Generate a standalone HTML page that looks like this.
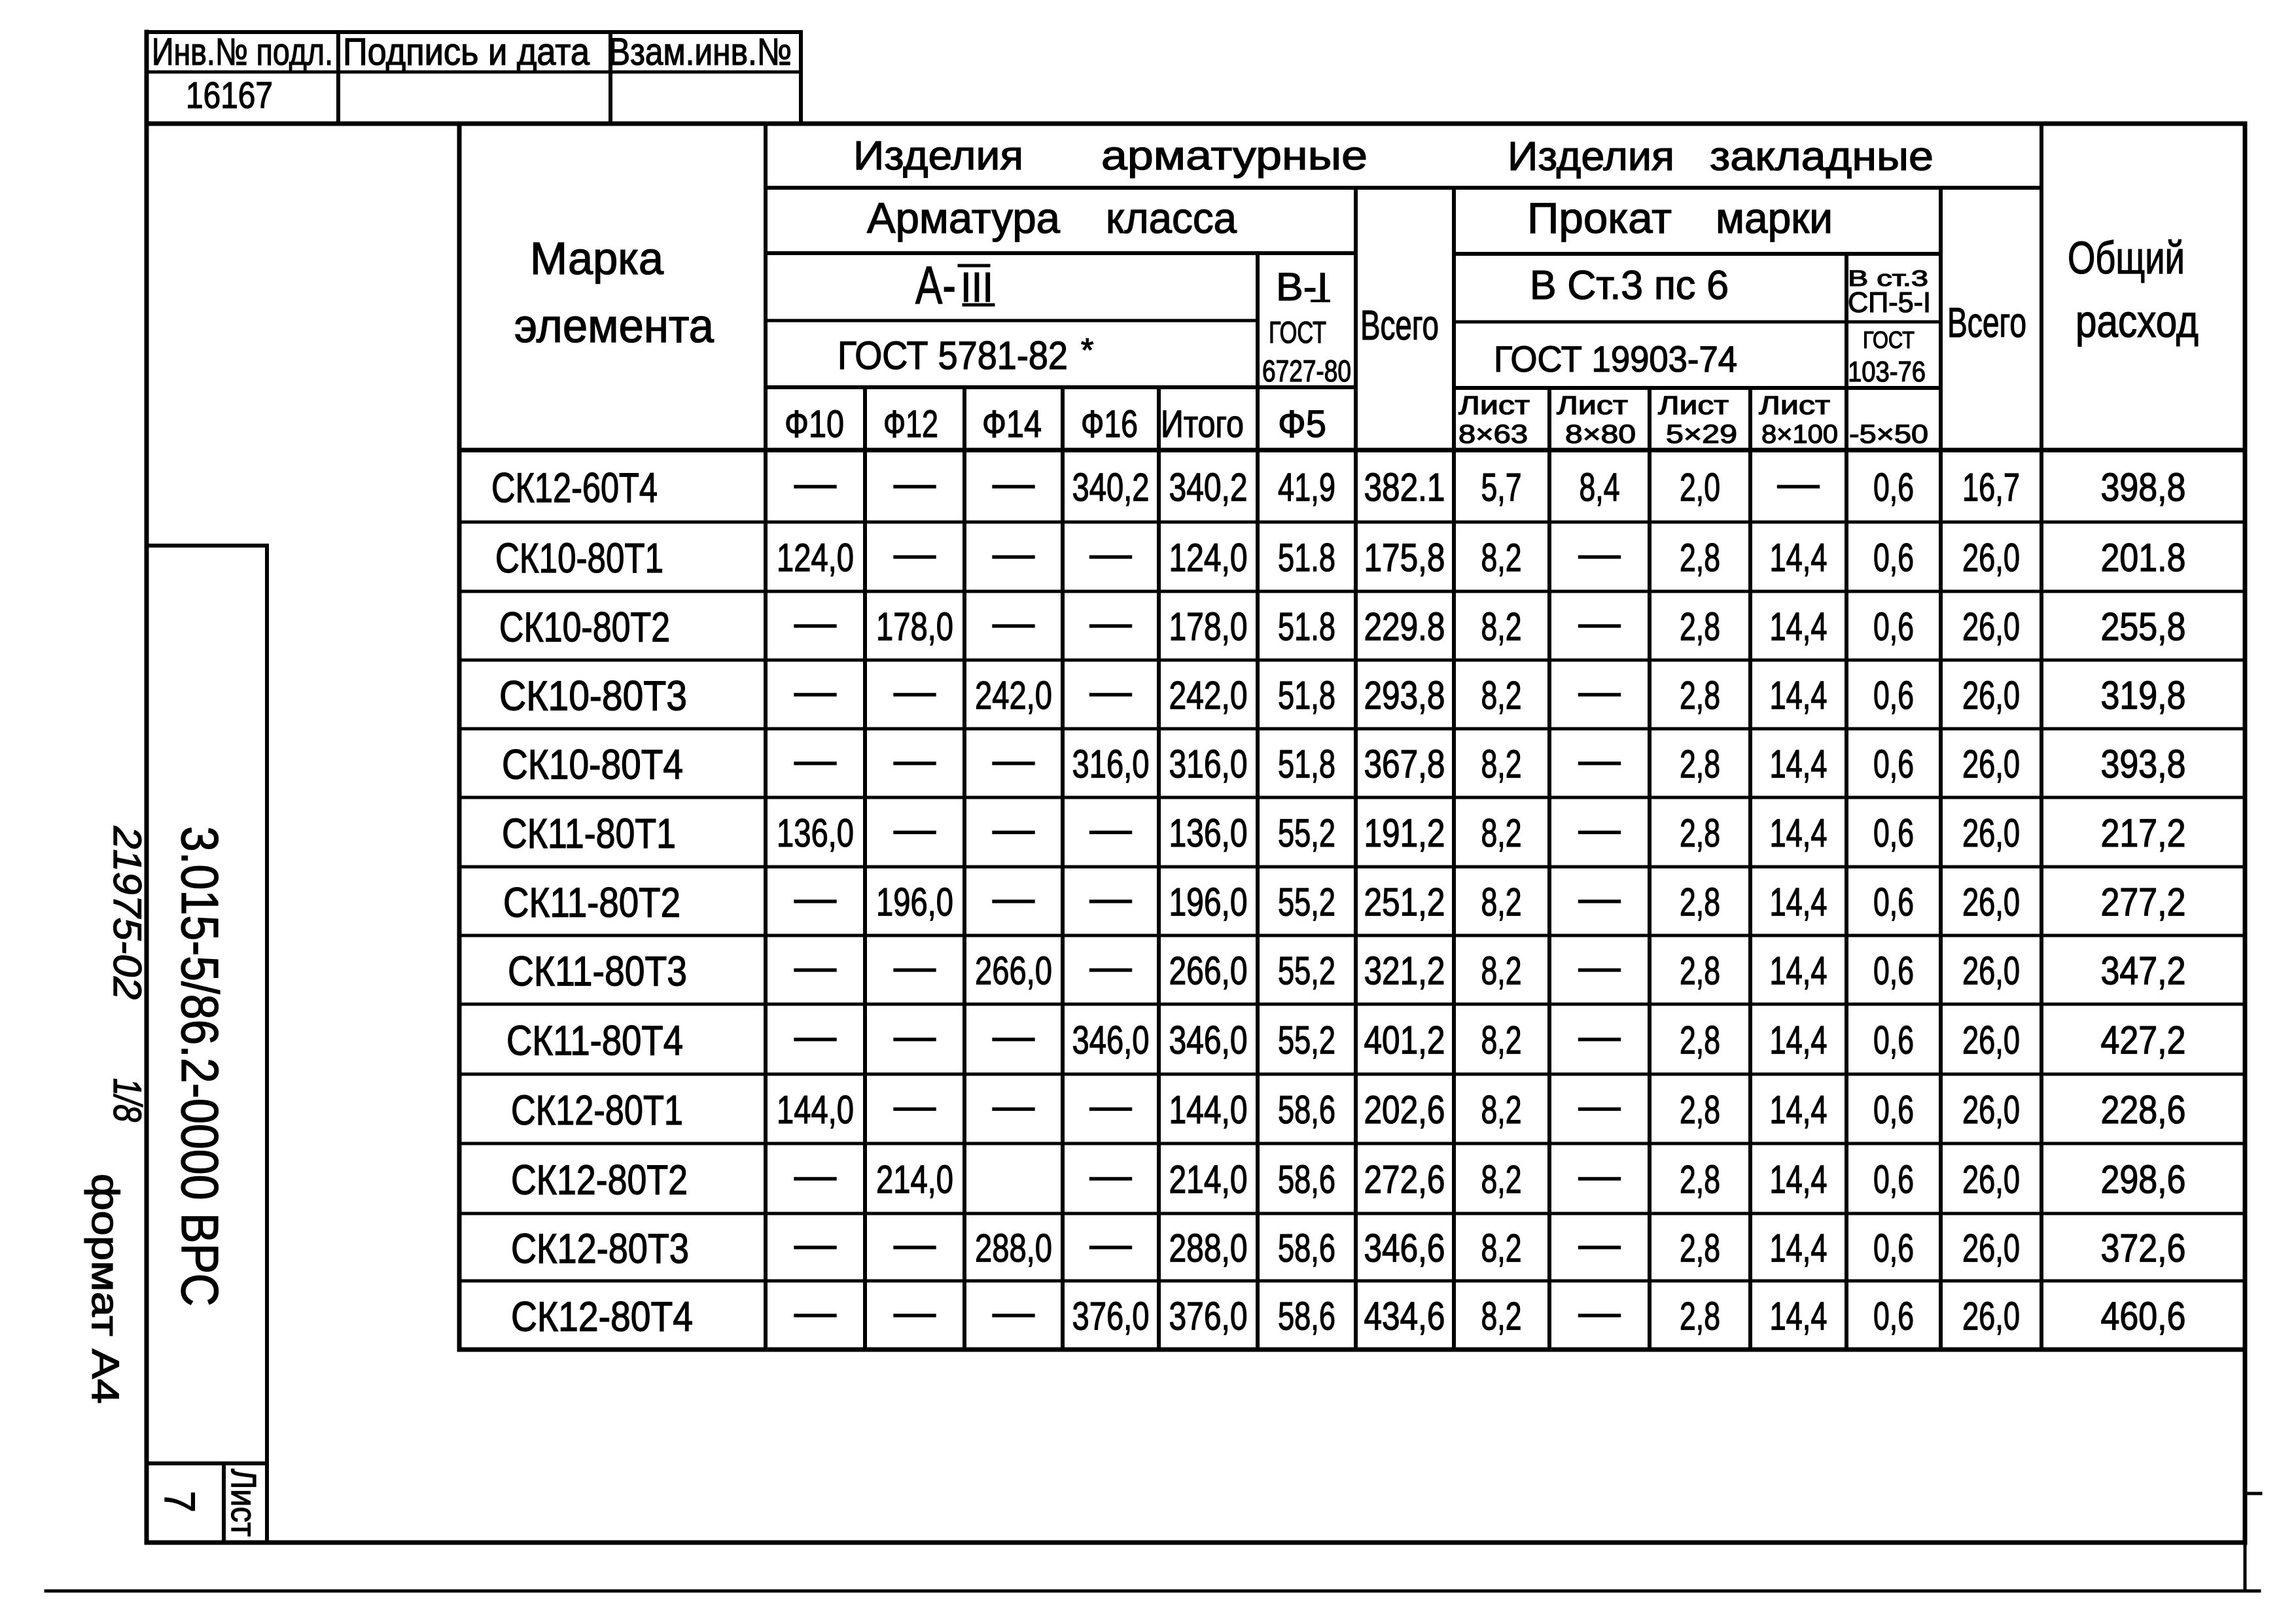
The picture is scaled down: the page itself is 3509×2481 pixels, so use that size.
<!DOCTYPE html>
<html>
<head>
<meta charset="utf-8">
<style>
html,body{margin:0;padding:0;background:#fff;}
svg{display:block;}
text{font-family:"Liberation Sans","DejaVu Sans",sans-serif;fill:#000;stroke:#000;stroke-width:1.3px;}
.ln{fill:none;stroke:#000;stroke-linecap:square;}
.v{font-size:60px;}
.n{font-size:64px;}
.h{font-size:62px;}
.sm{font-size:40px;}
</style>
</head>
<body>
<svg width="3509" height="2481" viewBox="0 0 3509 2481" xmlns="http://www.w3.org/2000/svg">
<rect width="3509" height="2481" fill="#fff"/>

<!-- Frame -->
<path class="ln" stroke-width="7" d="M224 49 V2358 M224 189 H3431 M3431 189 V2358 M224 2358 H3431"/>
<path class="ln" stroke-width="5" d="M3431 2358 V2432 M70 2432 H3453 M3431 2283 H3455"/>

<!-- Top-left stamp -->
<path class="ln" stroke-width="6" d="M224 49 H1224 M517 49 V189 M933 49 V189 M1224 49 V189"/>
<path class="ln" stroke-width="5" d="M224 110 H1224"/>
<text x="232" y="99" font-size="58" textLength="277" lengthAdjust="spacingAndGlyphs">Инв.№ подл.</text>
<text x="524" y="99" font-size="58" textLength="377" lengthAdjust="spacingAndGlyphs">Подпись и дата</text>
<text x="930" y="99" font-size="58" textLength="280" lengthAdjust="spacingAndGlyphs">Взам.инв.№</text>
<text x="284" y="165" font-size="57" textLength="133" lengthAdjust="spacingAndGlyphs">16167</text>

<!-- Left stamp -->
<path class="ln" stroke-width="6" d="M224 834 H408 M408 834 V2358 M224 2237 H408 M342 2237 V2358"/>
<text transform="translate(278,1263) rotate(90)" x="0" y="0" font-size="80" textLength="734" lengthAdjust="spacingAndGlyphs">3.015-5/86.2-0000 ВРС</text>
<text transform="translate(174,1263) rotate(90)" x="0" y="0" font-size="60" font-style="italic" textLength="265" lengthAdjust="spacingAndGlyphs">21975-02</text>
<text transform="translate(174,1648) rotate(90)" x="0" y="0" font-size="60" font-style="italic" textLength="67" lengthAdjust="spacingAndGlyphs">1/8</text>
<text transform="translate(141,1794) rotate(90)" x="0" y="0" font-size="58" textLength="352" lengthAdjust="spacingAndGlyphs">формат А4</text>
<text transform="translate(252,2279) rotate(90)" x="0" y="0" font-size="66" textLength="33" lengthAdjust="spacingAndGlyphs">7</text>
<text transform="translate(354,2245) rotate(90)" x="0" y="0" font-size="54" textLength="104" lengthAdjust="spacingAndGlyphs">Лист</text>

<!-- Main table lines -->
<path class="ln" stroke-width="7" d="M702 189 V2063 M702 2063 H3431 M702 688 H3431"/>
<path class="ln" stroke-width="6" d="M1170 189 V2063 M1170 287 H3120 M1170 387 H2072 M2222 388 H2966 M1170 592 H2072 M2222 593 H2966
M2072 287 V2063 M2222 287 V2063 M2966 287 V2063 M3120 189 V2063 M1922 387 V2063 M2822 388 V2063
M1322 592 V2063 M1474 592 V2063 M1624 592 V2063 M1771 592 V2063 M2368 593 V2063 M2521 593 V2063 M2675 593 V2063"/>
<path class="ln" stroke-width="5" d="M1170 490 H1922 M2222 492 H2966
M702 798 H3431 M702 904 H3431 M702 1009 H3431 M702 1114 H3431 M702 1219 H3431 M702 1325 H3431
M702 1430 H3431 M702 1535 H3431 M702 1642 H3431 M702 1748 H3431 M702 1855 H3431 M702 1958 H3431"/>

<!-- Header text -->
<text x="810" y="419" font-size="70" textLength="204" lengthAdjust="spacingAndGlyphs">Марка</text>
<text x="786" y="523" font-size="72" textLength="305" lengthAdjust="spacingAndGlyphs">элемента</text>

<text x="1304" y="259" class="h" textLength="260" lengthAdjust="spacingAndGlyphs">Изделия</text>
<text x="1683" y="259" class="h" textLength="407" lengthAdjust="spacingAndGlyphs">арматурные</text>
<text x="2304" y="260" class="h" textLength="255" lengthAdjust="spacingAndGlyphs">Изделия</text>
<text x="2613" y="260" class="h" textLength="342" lengthAdjust="spacingAndGlyphs">закладные</text>

<text x="1325" y="356" font-size="66" textLength="295" lengthAdjust="spacingAndGlyphs">Арматура</text>
<text x="1690" y="356" font-size="66" textLength="200" lengthAdjust="spacingAndGlyphs">класса</text>
<text x="2334" y="356" font-size="66" textLength="221" lengthAdjust="spacingAndGlyphs">Прокат</text>
<text x="2622" y="356" font-size="66" textLength="179" lengthAdjust="spacingAndGlyphs">марки</text>

<text x="1399" y="464" font-size="82" textLength="62" lengthAdjust="spacingAndGlyphs">А-</text>
<text x="1468" y="461" font-size="64" textLength="50" lengthAdjust="spacingAndGlyphs">III</text>
<path class="ln" stroke-width="5" d="M1466 406 H1511 M1473 466 H1518"/>
<text x="1280" y="564" font-size="60" textLength="352" lengthAdjust="spacingAndGlyphs">ГОСТ 5781-82</text>
<text x="1652" y="552" font-size="50">*</text>

<text x="1950" y="459" font-size="60" textLength="80" lengthAdjust="spacingAndGlyphs">В-I</text>
<path class="ln" stroke-width="4" d="M2005 460 H2031"/>
<text x="1939" y="524" font-size="46" textLength="88" lengthAdjust="spacingAndGlyphs">ГОСТ</text>
<text x="1929" y="583" font-size="46" textLength="136" lengthAdjust="spacingAndGlyphs">6727-80</text>
<text x="2079" y="519" font-size="64" textLength="120" lengthAdjust="spacingAndGlyphs">Всего</text>

<text x="1199" y="668" font-size="58" textLength="91" lengthAdjust="spacingAndGlyphs">Ф10</text>
<text x="1350" y="668" font-size="58" textLength="84" lengthAdjust="spacingAndGlyphs">Ф12</text>
<text x="1501" y="668" font-size="58" textLength="91" lengthAdjust="spacingAndGlyphs">Ф14</text>
<text x="1652" y="668" font-size="58" textLength="87" lengthAdjust="spacingAndGlyphs">Ф16</text>
<text x="1774" y="668" font-size="58" textLength="127" lengthAdjust="spacingAndGlyphs">Итого</text>
<text x="1953" y="668" font-size="58" textLength="74" lengthAdjust="spacingAndGlyphs">Ф5</text>

<text x="2338" y="457" font-size="62" textLength="304" lengthAdjust="spacingAndGlyphs">В Ст.3 пс 6</text>
<text x="2824" y="437" font-size="34" textLength="123" lengthAdjust="spacingAndGlyphs">В ст.3</text>
<text x="2824" y="477" font-size="44" textLength="127" lengthAdjust="spacingAndGlyphs">СП-5-I</text>
<text x="2283" y="568" font-size="56" textLength="372" lengthAdjust="spacingAndGlyphs">ГОСТ 19903-74</text>
<text x="2847" y="532" font-size="36" textLength="79" lengthAdjust="spacingAndGlyphs">ГОСТ</text>
<text x="2824" y="583" font-size="44" textLength="119" lengthAdjust="spacingAndGlyphs">103-76</text>
<text x="2976" y="515" font-size="64" textLength="121" lengthAdjust="spacingAndGlyphs">Всего</text>
<text x="3160" y="418" font-size="70" textLength="179" lengthAdjust="spacingAndGlyphs">Общий</text>
<text x="3172" y="515" font-size="70" textLength="188" lengthAdjust="spacingAndGlyphs">расход</text>

<text x="2229" y="633" class="sm" textLength="109" lengthAdjust="spacingAndGlyphs">Лист</text>
<text x="2379" y="633" class="sm" textLength="109" lengthAdjust="spacingAndGlyphs">Лист</text>
<text x="2534" y="633" class="sm" textLength="108" lengthAdjust="spacingAndGlyphs">Лист</text>
<text x="2688" y="633" class="sm" textLength="109" lengthAdjust="spacingAndGlyphs">Лист</text>
<text x="2229" y="677" class="sm" textLength="106" lengthAdjust="spacingAndGlyphs">8×63</text>
<text x="2392" y="677" class="sm" textLength="108" lengthAdjust="spacingAndGlyphs">8×80</text>
<text x="2546" y="677" class="sm" textLength="109" lengthAdjust="spacingAndGlyphs">5×29</text>
<text x="2692" y="677" class="sm" textLength="117" lengthAdjust="spacingAndGlyphs">8×100</text>
<text x="2826" y="677" class="sm" textLength="121" lengthAdjust="spacingAndGlyphs">-5×50</text>

<!-- Row 1 -->
<text class="n" x="751" y="767.5" textLength="254" lengthAdjust="spacingAndGlyphs">СК12-60Т4</text>
<text class="v" x="1214" y="759.5" textLength="64" lengthAdjust="spacingAndGlyphs">—</text>
<text class="v" x="1366" y="759.5" textLength="64" lengthAdjust="spacingAndGlyphs">—</text>
<text class="v" x="1517" y="759.5" textLength="64" lengthAdjust="spacingAndGlyphs">—</text>
<text class="v" x="1638.5" y="765.5" textLength="118" lengthAdjust="spacingAndGlyphs">340,2</text>
<text class="v" x="1786.5" y="765.5" textLength="120" lengthAdjust="spacingAndGlyphs">340,2</text>
<text class="v" x="1953" y="765.5" textLength="88" lengthAdjust="spacingAndGlyphs">41,9</text>
<text class="v" x="2084.5" y="765.5" textLength="124" lengthAdjust="spacingAndGlyphs">382.1</text>
<text class="v" x="2263.5" y="765.5" textLength="62" lengthAdjust="spacingAndGlyphs">5,7</text>
<text class="v" x="2413.5" y="765.5" textLength="62" lengthAdjust="spacingAndGlyphs">8,4</text>
<text class="v" x="2567" y="765.5" textLength="62" lengthAdjust="spacingAndGlyphs">2,0</text>
<text class="v" x="2716.5" y="759.5" textLength="64" lengthAdjust="spacingAndGlyphs">—</text>
<text class="v" x="2863" y="765.5" textLength="62" lengthAdjust="spacingAndGlyphs">0,6</text>
<text class="v" x="2999" y="765.5" textLength="88" lengthAdjust="spacingAndGlyphs">16,7</text>
<text class="v" x="3210.5" y="765.5" textLength="130" lengthAdjust="spacingAndGlyphs">398,8</text>

<!-- Row 2 -->
<text class="n" x="757" y="875" textLength="257" lengthAdjust="spacingAndGlyphs">СК10-80Т1</text>
<text class="v" x="1187" y="873" textLength="118" lengthAdjust="spacingAndGlyphs">124,0</text>
<text class="v" x="1366" y="867" textLength="64" lengthAdjust="spacingAndGlyphs">—</text>
<text class="v" x="1517" y="867" textLength="64" lengthAdjust="spacingAndGlyphs">—</text>
<text class="v" x="1665.5" y="867" textLength="64" lengthAdjust="spacingAndGlyphs">—</text>
<text class="v" x="1786.5" y="873" textLength="120" lengthAdjust="spacingAndGlyphs">124,0</text>
<text class="v" x="1953" y="873" textLength="88" lengthAdjust="spacingAndGlyphs">51.8</text>
<text class="v" x="2084.5" y="873" textLength="124" lengthAdjust="spacingAndGlyphs">175,8</text>
<text class="v" x="2263.5" y="873" textLength="62" lengthAdjust="spacingAndGlyphs">8,2</text>
<text class="v" x="2412.5" y="867" textLength="64" lengthAdjust="spacingAndGlyphs">—</text>
<text class="v" x="2567" y="873" textLength="62" lengthAdjust="spacingAndGlyphs">2,8</text>
<text class="v" x="2704.5" y="873" textLength="88" lengthAdjust="spacingAndGlyphs">14,4</text>
<text class="v" x="2863" y="873" textLength="62" lengthAdjust="spacingAndGlyphs">0,6</text>
<text class="v" x="2999" y="873" textLength="88" lengthAdjust="spacingAndGlyphs">26,0</text>
<text class="v" x="3210.5" y="873" textLength="130" lengthAdjust="spacingAndGlyphs">201.8</text>

<!-- Row 3 -->
<text class="n" x="763" y="980.5" textLength="261" lengthAdjust="spacingAndGlyphs">СК10-80Т2</text>
<text class="v" x="1214" y="972.5" textLength="64" lengthAdjust="spacingAndGlyphs">—</text>
<text class="v" x="1339" y="978.5" textLength="118" lengthAdjust="spacingAndGlyphs">178,0</text>
<text class="v" x="1517" y="972.5" textLength="64" lengthAdjust="spacingAndGlyphs">—</text>
<text class="v" x="1665.5" y="972.5" textLength="64" lengthAdjust="spacingAndGlyphs">—</text>
<text class="v" x="1786.5" y="978.5" textLength="120" lengthAdjust="spacingAndGlyphs">178,0</text>
<text class="v" x="1953" y="978.5" textLength="88" lengthAdjust="spacingAndGlyphs">51.8</text>
<text class="v" x="2084.5" y="978.5" textLength="124" lengthAdjust="spacingAndGlyphs">229.8</text>
<text class="v" x="2263.5" y="978.5" textLength="62" lengthAdjust="spacingAndGlyphs">8,2</text>
<text class="v" x="2412.5" y="972.5" textLength="64" lengthAdjust="spacingAndGlyphs">—</text>
<text class="v" x="2567" y="978.5" textLength="62" lengthAdjust="spacingAndGlyphs">2,8</text>
<text class="v" x="2704.5" y="978.5" textLength="88" lengthAdjust="spacingAndGlyphs">14,4</text>
<text class="v" x="2863" y="978.5" textLength="62" lengthAdjust="spacingAndGlyphs">0,6</text>
<text class="v" x="2999" y="978.5" textLength="88" lengthAdjust="spacingAndGlyphs">26,0</text>
<text class="v" x="3210.5" y="978.5" textLength="130" lengthAdjust="spacingAndGlyphs">255,8</text>

<!-- Row 4 -->
<text class="n" x="763" y="1085.5" textLength="287" lengthAdjust="spacingAndGlyphs">СК10-80Т3</text>
<text class="v" x="1214" y="1077.5" textLength="64" lengthAdjust="spacingAndGlyphs">—</text>
<text class="v" x="1366" y="1077.5" textLength="64" lengthAdjust="spacingAndGlyphs">—</text>
<text class="v" x="1490" y="1083.5" textLength="118" lengthAdjust="spacingAndGlyphs">242,0</text>
<text class="v" x="1665.5" y="1077.5" textLength="64" lengthAdjust="spacingAndGlyphs">—</text>
<text class="v" x="1786.5" y="1083.5" textLength="120" lengthAdjust="spacingAndGlyphs">242,0</text>
<text class="v" x="1953" y="1083.5" textLength="88" lengthAdjust="spacingAndGlyphs">51,8</text>
<text class="v" x="2084.5" y="1083.5" textLength="124" lengthAdjust="spacingAndGlyphs">293,8</text>
<text class="v" x="2263.5" y="1083.5" textLength="62" lengthAdjust="spacingAndGlyphs">8,2</text>
<text class="v" x="2412.5" y="1077.5" textLength="64" lengthAdjust="spacingAndGlyphs">—</text>
<text class="v" x="2567" y="1083.5" textLength="62" lengthAdjust="spacingAndGlyphs">2,8</text>
<text class="v" x="2704.5" y="1083.5" textLength="88" lengthAdjust="spacingAndGlyphs">14,4</text>
<text class="v" x="2863" y="1083.5" textLength="62" lengthAdjust="spacingAndGlyphs">0,6</text>
<text class="v" x="2999" y="1083.5" textLength="88" lengthAdjust="spacingAndGlyphs">26,0</text>
<text class="v" x="3210.5" y="1083.5" textLength="130" lengthAdjust="spacingAndGlyphs">319,8</text>

<!-- Row 5 -->
<text class="n" x="767" y="1190.5" textLength="277" lengthAdjust="spacingAndGlyphs">СК10-80Т4</text>
<text class="v" x="1214" y="1182.5" textLength="64" lengthAdjust="spacingAndGlyphs">—</text>
<text class="v" x="1366" y="1182.5" textLength="64" lengthAdjust="spacingAndGlyphs">—</text>
<text class="v" x="1517" y="1182.5" textLength="64" lengthAdjust="spacingAndGlyphs">—</text>
<text class="v" x="1638.5" y="1188.5" textLength="118" lengthAdjust="spacingAndGlyphs">316,0</text>
<text class="v" x="1786.5" y="1188.5" textLength="120" lengthAdjust="spacingAndGlyphs">316,0</text>
<text class="v" x="1953" y="1188.5" textLength="88" lengthAdjust="spacingAndGlyphs">51,8</text>
<text class="v" x="2084.5" y="1188.5" textLength="124" lengthAdjust="spacingAndGlyphs">367,8</text>
<text class="v" x="2263.5" y="1188.5" textLength="62" lengthAdjust="spacingAndGlyphs">8,2</text>
<text class="v" x="2412.5" y="1182.5" textLength="64" lengthAdjust="spacingAndGlyphs">—</text>
<text class="v" x="2567" y="1188.5" textLength="62" lengthAdjust="spacingAndGlyphs">2,8</text>
<text class="v" x="2704.5" y="1188.5" textLength="88" lengthAdjust="spacingAndGlyphs">14,4</text>
<text class="v" x="2863" y="1188.5" textLength="62" lengthAdjust="spacingAndGlyphs">0,6</text>
<text class="v" x="2999" y="1188.5" textLength="88" lengthAdjust="spacingAndGlyphs">26,0</text>
<text class="v" x="3210.5" y="1188.5" textLength="130" lengthAdjust="spacingAndGlyphs">393,8</text>

<!-- Row 6 -->
<text class="n" x="767" y="1296" textLength="266" lengthAdjust="spacingAndGlyphs">СК11-80Т1</text>
<text class="v" x="1187" y="1294" textLength="118" lengthAdjust="spacingAndGlyphs">136,0</text>
<text class="v" x="1366" y="1288" textLength="64" lengthAdjust="spacingAndGlyphs">—</text>
<text class="v" x="1517" y="1288" textLength="64" lengthAdjust="spacingAndGlyphs">—</text>
<text class="v" x="1665.5" y="1288" textLength="64" lengthAdjust="spacingAndGlyphs">—</text>
<text class="v" x="1786.5" y="1294" textLength="120" lengthAdjust="spacingAndGlyphs">136,0</text>
<text class="v" x="1953" y="1294" textLength="88" lengthAdjust="spacingAndGlyphs">55,2</text>
<text class="v" x="2084.5" y="1294" textLength="124" lengthAdjust="spacingAndGlyphs">191,2</text>
<text class="v" x="2263.5" y="1294" textLength="62" lengthAdjust="spacingAndGlyphs">8,2</text>
<text class="v" x="2412.5" y="1288" textLength="64" lengthAdjust="spacingAndGlyphs">—</text>
<text class="v" x="2567" y="1294" textLength="62" lengthAdjust="spacingAndGlyphs">2,8</text>
<text class="v" x="2704.5" y="1294" textLength="88" lengthAdjust="spacingAndGlyphs">14,4</text>
<text class="v" x="2863" y="1294" textLength="62" lengthAdjust="spacingAndGlyphs">0,6</text>
<text class="v" x="2999" y="1294" textLength="88" lengthAdjust="spacingAndGlyphs">26,0</text>
<text class="v" x="3210.5" y="1294" textLength="130" lengthAdjust="spacingAndGlyphs">217,2</text>

<!-- Row 7 -->
<text class="n" x="769" y="1401.5" textLength="271" lengthAdjust="spacingAndGlyphs">СК11-80Т2</text>
<text class="v" x="1214" y="1393.5" textLength="64" lengthAdjust="spacingAndGlyphs">—</text>
<text class="v" x="1339" y="1399.5" textLength="118" lengthAdjust="spacingAndGlyphs">196,0</text>
<text class="v" x="1517" y="1393.5" textLength="64" lengthAdjust="spacingAndGlyphs">—</text>
<text class="v" x="1665.5" y="1393.5" textLength="64" lengthAdjust="spacingAndGlyphs">—</text>
<text class="v" x="1786.5" y="1399.5" textLength="120" lengthAdjust="spacingAndGlyphs">196,0</text>
<text class="v" x="1953" y="1399.5" textLength="88" lengthAdjust="spacingAndGlyphs">55,2</text>
<text class="v" x="2084.5" y="1399.5" textLength="124" lengthAdjust="spacingAndGlyphs">251,2</text>
<text class="v" x="2263.5" y="1399.5" textLength="62" lengthAdjust="spacingAndGlyphs">8,2</text>
<text class="v" x="2412.5" y="1393.5" textLength="64" lengthAdjust="spacingAndGlyphs">—</text>
<text class="v" x="2567" y="1399.5" textLength="62" lengthAdjust="spacingAndGlyphs">2,8</text>
<text class="v" x="2704.5" y="1399.5" textLength="88" lengthAdjust="spacingAndGlyphs">14,4</text>
<text class="v" x="2863" y="1399.5" textLength="62" lengthAdjust="spacingAndGlyphs">0,6</text>
<text class="v" x="2999" y="1399.5" textLength="88" lengthAdjust="spacingAndGlyphs">26,0</text>
<text class="v" x="3210.5" y="1399.5" textLength="130" lengthAdjust="spacingAndGlyphs">277,2</text>

<!-- Row 8 -->
<text class="n" x="776" y="1506.5" textLength="274" lengthAdjust="spacingAndGlyphs">СК11-80Т3</text>
<text class="v" x="1214" y="1498.5" textLength="64" lengthAdjust="spacingAndGlyphs">—</text>
<text class="v" x="1366" y="1498.5" textLength="64" lengthAdjust="spacingAndGlyphs">—</text>
<text class="v" x="1490" y="1504.5" textLength="118" lengthAdjust="spacingAndGlyphs">266,0</text>
<text class="v" x="1665.5" y="1498.5" textLength="64" lengthAdjust="spacingAndGlyphs">—</text>
<text class="v" x="1786.5" y="1504.5" textLength="120" lengthAdjust="spacingAndGlyphs">266,0</text>
<text class="v" x="1953" y="1504.5" textLength="88" lengthAdjust="spacingAndGlyphs">55,2</text>
<text class="v" x="2084.5" y="1504.5" textLength="124" lengthAdjust="spacingAndGlyphs">321,2</text>
<text class="v" x="2263.5" y="1504.5" textLength="62" lengthAdjust="spacingAndGlyphs">8,2</text>
<text class="v" x="2412.5" y="1498.5" textLength="64" lengthAdjust="spacingAndGlyphs">—</text>
<text class="v" x="2567" y="1504.5" textLength="62" lengthAdjust="spacingAndGlyphs">2,8</text>
<text class="v" x="2704.5" y="1504.5" textLength="88" lengthAdjust="spacingAndGlyphs">14,4</text>
<text class="v" x="2863" y="1504.5" textLength="62" lengthAdjust="spacingAndGlyphs">0,6</text>
<text class="v" x="2999" y="1504.5" textLength="88" lengthAdjust="spacingAndGlyphs">26,0</text>
<text class="v" x="3210.5" y="1504.5" textLength="130" lengthAdjust="spacingAndGlyphs">347,2</text>

<!-- Row 9 -->
<text class="n" x="774" y="1612.5" textLength="270" lengthAdjust="spacingAndGlyphs">СК11-80Т4</text>
<text class="v" x="1214" y="1604.5" textLength="64" lengthAdjust="spacingAndGlyphs">—</text>
<text class="v" x="1366" y="1604.5" textLength="64" lengthAdjust="spacingAndGlyphs">—</text>
<text class="v" x="1517" y="1604.5" textLength="64" lengthAdjust="spacingAndGlyphs">—</text>
<text class="v" x="1638.5" y="1610.5" textLength="118" lengthAdjust="spacingAndGlyphs">346,0</text>
<text class="v" x="1786.5" y="1610.5" textLength="120" lengthAdjust="spacingAndGlyphs">346,0</text>
<text class="v" x="1953" y="1610.5" textLength="88" lengthAdjust="spacingAndGlyphs">55,2</text>
<text class="v" x="2084.5" y="1610.5" textLength="124" lengthAdjust="spacingAndGlyphs">401,2</text>
<text class="v" x="2263.5" y="1610.5" textLength="62" lengthAdjust="spacingAndGlyphs">8,2</text>
<text class="v" x="2412.5" y="1604.5" textLength="64" lengthAdjust="spacingAndGlyphs">—</text>
<text class="v" x="2567" y="1610.5" textLength="62" lengthAdjust="spacingAndGlyphs">2,8</text>
<text class="v" x="2704.5" y="1610.5" textLength="88" lengthAdjust="spacingAndGlyphs">14,4</text>
<text class="v" x="2863" y="1610.5" textLength="62" lengthAdjust="spacingAndGlyphs">0,6</text>
<text class="v" x="2999" y="1610.5" textLength="88" lengthAdjust="spacingAndGlyphs">26,0</text>
<text class="v" x="3210.5" y="1610.5" textLength="130" lengthAdjust="spacingAndGlyphs">427,2</text>

<!-- Row 10 -->
<text class="n" x="781" y="1719" textLength="263" lengthAdjust="spacingAndGlyphs">СК12-80Т1</text>
<text class="v" x="1187" y="1717" textLength="118" lengthAdjust="spacingAndGlyphs">144,0</text>
<text class="v" x="1366" y="1711" textLength="64" lengthAdjust="spacingAndGlyphs">—</text>
<text class="v" x="1517" y="1711" textLength="64" lengthAdjust="spacingAndGlyphs">—</text>
<text class="v" x="1665.5" y="1711" textLength="64" lengthAdjust="spacingAndGlyphs">—</text>
<text class="v" x="1786.5" y="1717" textLength="120" lengthAdjust="spacingAndGlyphs">144,0</text>
<text class="v" x="1953" y="1717" textLength="88" lengthAdjust="spacingAndGlyphs">58,6</text>
<text class="v" x="2084.5" y="1717" textLength="124" lengthAdjust="spacingAndGlyphs">202,6</text>
<text class="v" x="2263.5" y="1717" textLength="62" lengthAdjust="spacingAndGlyphs">8,2</text>
<text class="v" x="2412.5" y="1711" textLength="64" lengthAdjust="spacingAndGlyphs">—</text>
<text class="v" x="2567" y="1717" textLength="62" lengthAdjust="spacingAndGlyphs">2,8</text>
<text class="v" x="2704.5" y="1717" textLength="88" lengthAdjust="spacingAndGlyphs">14,4</text>
<text class="v" x="2863" y="1717" textLength="62" lengthAdjust="spacingAndGlyphs">0,6</text>
<text class="v" x="2999" y="1717" textLength="88" lengthAdjust="spacingAndGlyphs">26,0</text>
<text class="v" x="3210.5" y="1717" textLength="130" lengthAdjust="spacingAndGlyphs">228,6</text>

<!-- Row 11 -->
<text class="n" x="781" y="1825.5" textLength="270" lengthAdjust="spacingAndGlyphs">СК12-80Т2</text>
<text class="v" x="1214" y="1817.5" textLength="64" lengthAdjust="spacingAndGlyphs">—</text>
<text class="v" x="1339" y="1823.5" textLength="118" lengthAdjust="spacingAndGlyphs">214,0</text>
<text class="v" x="1665.5" y="1817.5" textLength="64" lengthAdjust="spacingAndGlyphs">—</text>
<text class="v" x="1786.5" y="1823.5" textLength="120" lengthAdjust="spacingAndGlyphs">214,0</text>
<text class="v" x="1953" y="1823.5" textLength="88" lengthAdjust="spacingAndGlyphs">58,6</text>
<text class="v" x="2084.5" y="1823.5" textLength="124" lengthAdjust="spacingAndGlyphs">272,6</text>
<text class="v" x="2263.5" y="1823.5" textLength="62" lengthAdjust="spacingAndGlyphs">8,2</text>
<text class="v" x="2412.5" y="1817.5" textLength="64" lengthAdjust="spacingAndGlyphs">—</text>
<text class="v" x="2567" y="1823.5" textLength="62" lengthAdjust="spacingAndGlyphs">2,8</text>
<text class="v" x="2704.5" y="1823.5" textLength="88" lengthAdjust="spacingAndGlyphs">14,4</text>
<text class="v" x="2863" y="1823.5" textLength="62" lengthAdjust="spacingAndGlyphs">0,6</text>
<text class="v" x="2999" y="1823.5" textLength="88" lengthAdjust="spacingAndGlyphs">26,0</text>
<text class="v" x="3210.5" y="1823.5" textLength="130" lengthAdjust="spacingAndGlyphs">298,6</text>

<!-- Row 12 -->
<text class="n" x="781" y="1930.5" textLength="272" lengthAdjust="spacingAndGlyphs">СК12-80Т3</text>
<text class="v" x="1214" y="1922.5" textLength="64" lengthAdjust="spacingAndGlyphs">—</text>
<text class="v" x="1366" y="1922.5" textLength="64" lengthAdjust="spacingAndGlyphs">—</text>
<text class="v" x="1490" y="1928.5" textLength="118" lengthAdjust="spacingAndGlyphs">288,0</text>
<text class="v" x="1665.5" y="1922.5" textLength="64" lengthAdjust="spacingAndGlyphs">—</text>
<text class="v" x="1786.5" y="1928.5" textLength="120" lengthAdjust="spacingAndGlyphs">288,0</text>
<text class="v" x="1953" y="1928.5" textLength="88" lengthAdjust="spacingAndGlyphs">58,6</text>
<text class="v" x="2084.5" y="1928.5" textLength="124" lengthAdjust="spacingAndGlyphs">346,6</text>
<text class="v" x="2263.5" y="1928.5" textLength="62" lengthAdjust="spacingAndGlyphs">8,2</text>
<text class="v" x="2412.5" y="1922.5" textLength="64" lengthAdjust="spacingAndGlyphs">—</text>
<text class="v" x="2567" y="1928.5" textLength="62" lengthAdjust="spacingAndGlyphs">2,8</text>
<text class="v" x="2704.5" y="1928.5" textLength="88" lengthAdjust="spacingAndGlyphs">14,4</text>
<text class="v" x="2863" y="1928.5" textLength="62" lengthAdjust="spacingAndGlyphs">0,6</text>
<text class="v" x="2999" y="1928.5" textLength="88" lengthAdjust="spacingAndGlyphs">26,0</text>
<text class="v" x="3210.5" y="1928.5" textLength="130" lengthAdjust="spacingAndGlyphs">372,6</text>

<!-- Row 13 -->
<text class="n" x="781" y="2034.5" textLength="278" lengthAdjust="spacingAndGlyphs">СК12-80Т4</text>
<text class="v" x="1214" y="2026.5" textLength="64" lengthAdjust="spacingAndGlyphs">—</text>
<text class="v" x="1366" y="2026.5" textLength="64" lengthAdjust="spacingAndGlyphs">—</text>
<text class="v" x="1517" y="2026.5" textLength="64" lengthAdjust="spacingAndGlyphs">—</text>
<text class="v" x="1638.5" y="2032.5" textLength="118" lengthAdjust="spacingAndGlyphs">376,0</text>
<text class="v" x="1786.5" y="2032.5" textLength="120" lengthAdjust="spacingAndGlyphs">376,0</text>
<text class="v" x="1953" y="2032.5" textLength="88" lengthAdjust="spacingAndGlyphs">58,6</text>
<text class="v" x="2084.5" y="2032.5" textLength="124" lengthAdjust="spacingAndGlyphs">434,6</text>
<text class="v" x="2263.5" y="2032.5" textLength="62" lengthAdjust="spacingAndGlyphs">8,2</text>
<text class="v" x="2412.5" y="2026.5" textLength="64" lengthAdjust="spacingAndGlyphs">—</text>
<text class="v" x="2567" y="2032.5" textLength="62" lengthAdjust="spacingAndGlyphs">2,8</text>
<text class="v" x="2704.5" y="2032.5" textLength="88" lengthAdjust="spacingAndGlyphs">14,4</text>
<text class="v" x="2863" y="2032.5" textLength="62" lengthAdjust="spacingAndGlyphs">0,6</text>
<text class="v" x="2999" y="2032.5" textLength="88" lengthAdjust="spacingAndGlyphs">26,0</text>
<text class="v" x="3210.5" y="2032.5" textLength="130" lengthAdjust="spacingAndGlyphs">460,6</text>
</svg>
</body>
</html>
